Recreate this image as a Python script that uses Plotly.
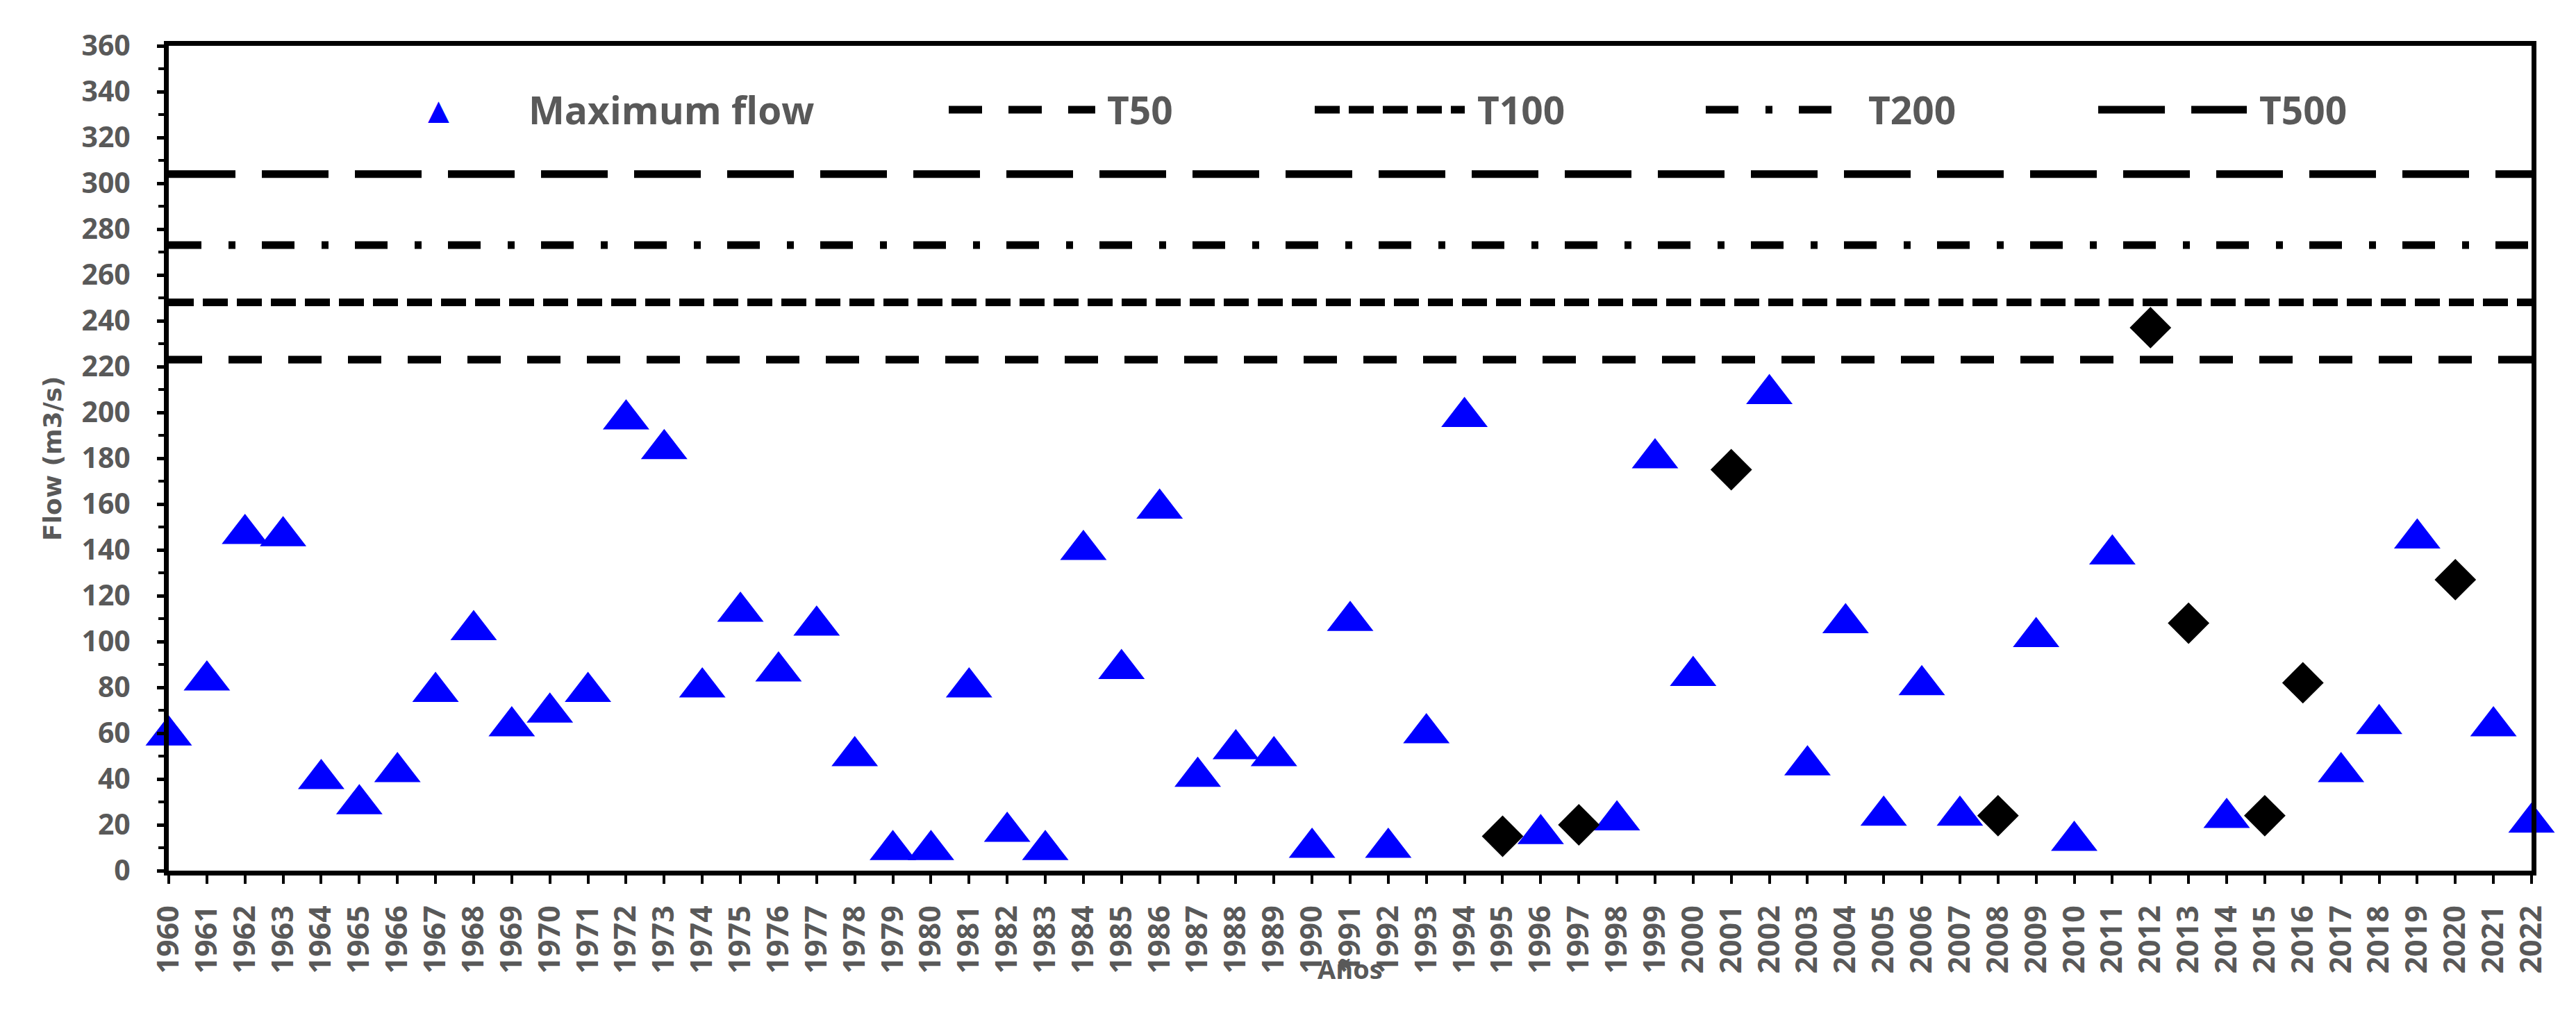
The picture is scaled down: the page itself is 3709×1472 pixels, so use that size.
import plotly.graph_objects as go

# Serie "Maximum flow" (triangulos azules)
tri_years = [1960, 1961, 1962, 1963, 1964, 1965, 1966, 1967, 1968, 1969,
             1970, 1971, 1972, 1973, 1974, 1975, 1976, 1977, 1978, 1979,
             1980, 1981, 1982, 1983, 1984, 1985, 1986, 1987, 1988, 1989,
             1990, 1991, 1992, 1993, 1994, 1996, 1998, 1999, 2000, 2002,
             2003, 2004, 2005, 2006, 2007, 2009, 2010, 2011, 2014, 2017,
             2018, 2019, 2021, 2022]
tri_flow = [59, 83, 147, 146, 40, 29, 43, 78, 105, 63,
            69, 78, 197, 184, 80, 113, 87, 107, 50, 9,
            9, 80, 17, 9, 140, 88, 158, 41, 53, 50,
            10, 109, 10, 60, 198, 16, 22, 180, 85, 208,
            46, 108, 24, 81, 24, 102, 13, 138, 23, 43,
            64, 145, 63, 21]

# Serie de rombos negros
dia_years = [1995, 1997, 2001, 2008, 2012, 2013, 2015, 2016, 2020]
dia_flow = [15, 20, 175, 24, 237, 108, 24, 82, 127]

# Caudales por periodo de retorno
t_names = ["T50", "T100", "T200", "T500"]
t_flow = [223, 248, 273, 304]

x_start, x_end = 1960, 2022

GRAY = "#595959"
t_dash = {"T50": "48px,38px", "T100": "36px,13px",
          "T200": "47px,39px,10px,38px", "T500": "96px,38px"}

fig = go.Figure()

# === Lineas de periodo de retorno ===
for name, q in zip(t_names, t_flow):
    fig.add_trace(go.Scatter(x=[x_start, x_end], y=[q, q], mode="lines", name=name,
                             line=dict(color="black", width=11, dash=t_dash[name]),
                             showlegend=False, hoverinfo="name+y"))

# === Marcadores ===
fig.add_trace(go.Scatter(x=tri_years, y=tri_flow, mode="markers", name="Maximum flow",
                         marker=dict(symbol="triangle-up", size=58, color="#0000FF"),
                         cliponaxis=False, showlegend=False))
fig.add_trace(go.Scatter(x=dia_years, y=dia_flow, mode="markers", name="",
                         marker=dict(symbol="diamond", size=46, color="black"),
                         cliponaxis=False, showlegend=False))

# === Leyenda manual (dentro del grafico, arriba) ===
leg_y = 0.9226
leg_font = dict(family="Open Sans", size=55, color=GRAY, weight="bold")
leg_pos = {"T50": (0.3301, 0.3921, 0.3965), "T100": (0.4850, 0.5485, 0.5532),
           "T200": (0.6505, 0.7046, 0.7187), "T500": (0.8166, 0.8795, 0.8842)}

shapes = []
annotations = [
    dict(x=0.1141, y=leg_y, xref="paper", yref="paper", text="▲", showarrow=False,
         font=dict(family="DejaVu Sans", size=40, color="#0000FF"), xanchor="center", yanchor="middle"),
    dict(x=0.1517, y=leg_y, xref="paper", yref="paper", text="Maximum flow", showarrow=False,
         font=leg_font, xanchor="left", yanchor="middle"),
]
for name in t_names:
    x0, x1, xt = leg_pos[name]
    shapes.append(dict(type="line", xref="paper", yref="paper", x0=x0, x1=x1, y0=leg_y, y1=leg_y,
                       line=dict(color="black", width=11, dash=t_dash[name])))
    annotations.append(dict(x=xt, y=leg_y, xref="paper", yref="paper", text=name, showarrow=False,
                            font=leg_font, xanchor="left", yanchor="middle"))

# titulos de ejes
annotations.append(dict(x=0.5, y=-0.1187, xref="paper", yref="paper", text="Años", showarrow=False,
                        font=dict(family="Open Sans", size=38, color=GRAY, weight="bold"),
                        xanchor="center", yanchor="middle"))
annotations.append(dict(x=-0.0494, y=0.5, xref="paper", yref="paper", text="Flow (m3/s)", showarrow=False,
                        textangle=-90,
                        font=dict(family="DejaVu Sans", size=36, color=GRAY, weight="bold"),
                        xanchor="center", yanchor="middle"))

fig.update_layout(
    width=3709, height=1472,
    margin=dict(l=243, r=64, t=66, b=218),
    plot_bgcolor="white", paper_bgcolor="white",
    shapes=shapes, annotations=annotations,
    showlegend=False,
)

fig.update_xaxes(
    range=[x_start, x_end], tickmode="linear", tick0=1960, dtick=1,
    showgrid=False, zeroline=False,
    showline=True, linecolor="black", linewidth=7, mirror=True,
    ticks="outside", ticklen=12, tickwidth=4, tickcolor="black",
    tickangle=-90, ticklabelstandoff=14,
    tickfont=dict(family="Open Sans", size=43, color=GRAY, weight="bold"),
)
fig.update_yaxes(
    range=[0, 360], tickmode="linear", tick0=0, dtick=20,
    showgrid=False, zeroline=False,
    showline=True, linecolor="black", linewidth=7, mirror=True,
    ticks="outside", ticklen=10, tickwidth=5, tickcolor="black",
    ticklabelstandoff=30,
    tickfont=dict(family="Open Sans", size=41, color=GRAY, weight="bold"),
    minor=dict(dtick=10, tick0=0, ticks="outside", ticklen=8, tickwidth=4,
               tickcolor="black", showgrid=False),
)

fig.write_html("out.html", config={"displayModeBar": False},
               post_script="document.body.style.margin='0';")
